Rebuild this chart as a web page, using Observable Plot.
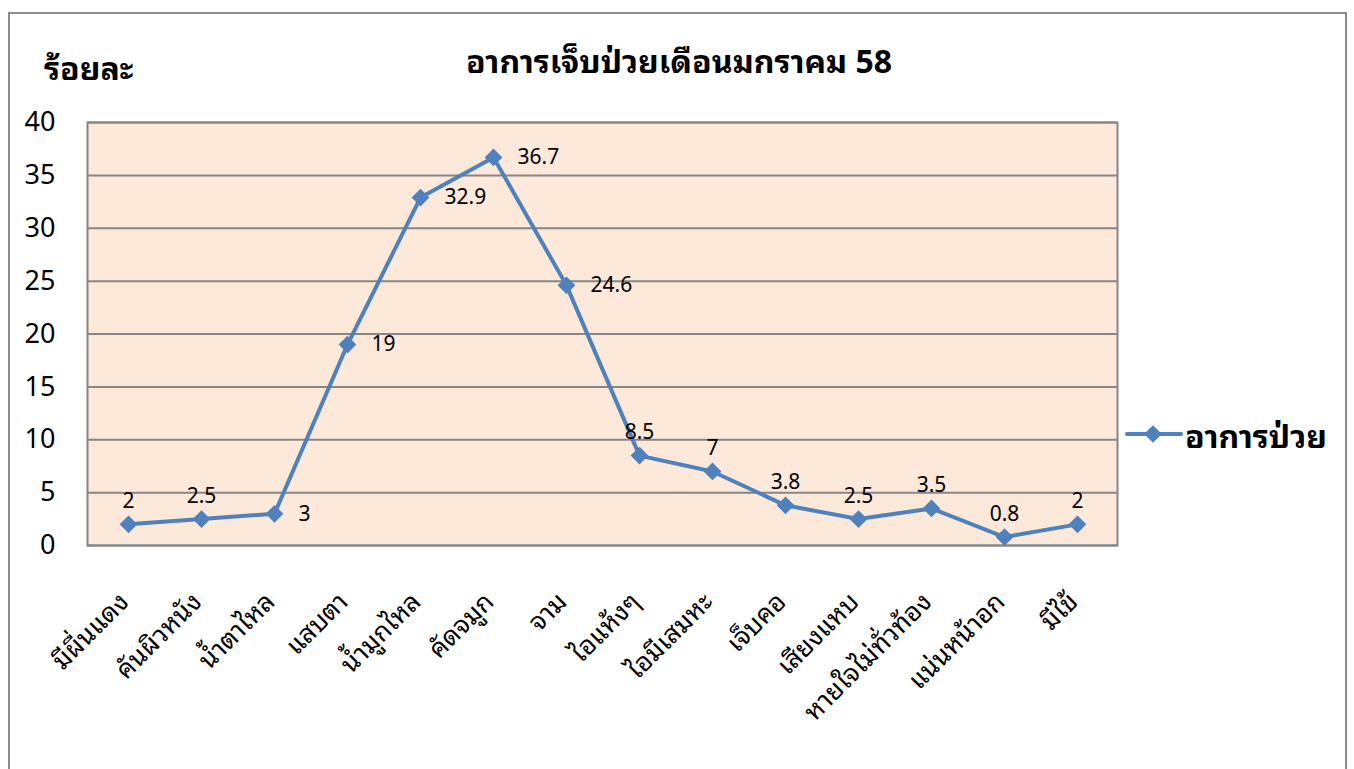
<!DOCTYPE html>
<html>
<head>
<meta charset="utf-8">
<script src="https://cdn.jsdelivr.net/npm/d3@7"></script>
<script src="https://cdn.jsdelivr.net/npm/@observablehq/plot@0.6"></script>
<style>
  html, body { margin: 0; padding: 0; background: #fff; }
  body { width: 1354px; height: 769px; position: relative; overflow: hidden;
         font-family: "Noto Sans", Tahoma, "Leelawadee UI", "Noto Sans Thai Looped", Loma, Garuda, "Noto Sans Thai", "DejaVu Sans", sans-serif; }
  #frame { position: absolute; left: 8px; top: 12px; width: 1335px; height: 800px; border: 2px solid #8c8c8c; }
  #chart { position: absolute; left: 0; top: 0; }
  #title { position: absolute; left: 0; width: 1354px; top: 33px; text-align: center; font-size: 32px; font-weight: bold; padding-left: 2px; }
  #ylabel { position: absolute; left: 44px; top: 40px; font-size: 32px; font-weight: bold; }
  #legend { position: absolute; left: 1125px; top: 408px; font-size: 32px; font-weight: bold; display: flex; align-items: center; }
  #legend svg { margin-right: 2px; }
</style>
</head>
<body>
<div id="frame"></div>
<div id="chart"></div>
<div id="title">อาการเจ็บป่วยเดือนมกราคม 58</div>
<div id="ylabel">ร้อยละ</div>
<div id="legend"></div>
<script>
const categories = ["มีผื่นแดง","คันผิวหนัง","น้ำตาไหล","แสบตา","น้ำมูกไหล","คัดจมูก","จาม","ไอแห้งๆ","ไอมีเสมหะ","เจ็บคอ","เสียงแหบ","หายใจไม่ทั่วท้อง","แน่นหน้าอก","มีไข้"];
const values = [2, 2.5, 3, 19, 32.9, 36.7, 24.6, 8.5, 7, 3.8, 2.5, 3.5, 0.8, 2];
const labelSide = ["above","above","right","right","right","right","right","above","above","above","above","above","above","above"];
const yTicks = [0, 5, 10, 15, 20, 25, 30, 35, 40];
const seriesName = "อาการป่วย";

const data = categories.map((c, i) => ({cat: c, value: values[i], side: labelSide[i]}));
const blue = "#4F81BD";
const grid = "#868686";

const chart = Plot.plot({
  width: 1354,
  height: 769,
  marginLeft: 87,
  marginRight: 237,
  marginTop: 122,
  marginBottom: 224,
  style: {fontFamily: "inherit", background: "transparent", overflow: "visible"},
  x: {type: "point", domain: categories, padding: 0.5, label: null},
  y: {domain: [0, 40], label: null},
  marks: [
    Plot.frame({fill: "#FDE9D9", stroke: null}),
    Plot.gridY(yTicks, {stroke: grid, strokeOpacity: 1, strokeWidth: 2}),
    Plot.frame({stroke: grid, strokeWidth: 2}),
    Plot.axisY(yTicks, {tickSize: 0, tickPadding: 32, fontSize: 27, fill: "#000", tickFormat: d => String(d), label: null}),
    Plot.axisX({tickSize: 0, tickRotate: -45, tickPadding: 52, dx: -4, fontSize: 26, fill: "#000", label: null}),
    Plot.line(data, {x: "cat", y: "value", stroke: blue, strokeWidth: 4}),
    Plot.dot(data, {x: "cat", y: "value", symbol: "diamond2", r: 8, fill: blue, stroke: null}),
    Plot.text(data.filter(d => d.side === "above"), {x: "cat", y: "value", text: d => String(d.value), dy: -23, fontSize: 21, fill: "#000"}),
    Plot.text(data.filter(d => d.side === "right"), {x: "cat", y: "value", text: d => String(d.value), dx: 24, textAnchor: "start", fontSize: 21, fill: "#000"})
  ]
});
document.getElementById("chart").appendChild(chart);

// legend
const lg = d3.select("#legend");
const ls = lg.append("svg").attr("width", 58).attr("height", 24);
ls.append("line").attr("x1", 2).attr("x2", 56).attr("y1", 12).attr("y2", 12).attr("stroke", blue).attr("stroke-width", 4).attr("stroke-linecap", "round");
ls.append("path").attr("d", d3.symbol(d3.symbolDiamond2, 200)()).attr("transform", "translate(28,12)").attr("fill", blue);
lg.append("span").text(seriesName);
</script>
</body>
</html>
